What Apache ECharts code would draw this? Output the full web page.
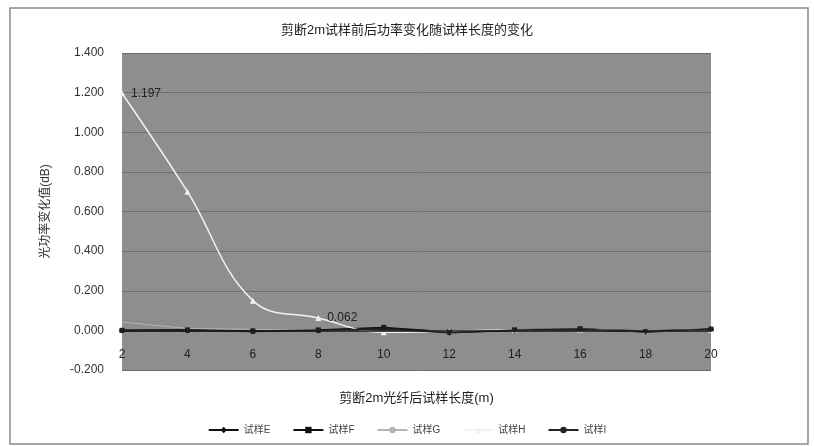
<!DOCTYPE html>
<html><head><meta charset="utf-8">
<script src="https://cdn.jsdelivr.net/npm/echarts@6/dist/echarts.min.js"></script>
<style>html,body{margin:0;padding:0;background:#fff}#c{width:814px;height:446px}</style>
</head><body><div id="c"></div>
<script>
const categories = ['2','4','6','8','10','12','14','16','18','20'];
const seriesNames = ['试样E','试样F','试样G','试样H','试样I'];
const valuesE = [0.000, 0.000, -0.005, 0.000, 0.010, -0.010, 0.000, 0.005, -0.005, 0.005];
const valuesF = [0.000, 0.002, -0.003, 0.002, 0.015, -0.008, 0.003, 0.008, -0.008, 0.006];
const valuesG = [0.042, 0.010, 0.005, 0.000, -0.005, -0.002, 0.002, 0.004, -0.003, 0.004];
const valuesH = [1.197, 0.700, 0.150, 0.062, -0.010, -0.005, 0.003, 0.004, -0.004, 0.003];
const valuesI = [0.000, 0.000, -0.004, 0.000, 0.008, -0.012, 0.002, 0.006, -0.006, 0.006];
const yTicks = {min: -0.2, max: 1.4, interval: 0.2};
const zeroLine = 0;

const FONT = '"Liberation Sans", Arial, "Noto Sans CJK SC", sans-serif';
const chart = echarts.init(document.getElementById('c'));
function labelAt(idx, pos) {
  return {show: true, position: pos || 'right', distance: 6, color: '#222', fontSize: 12, fontFamily: FONT,
    formatter: p => p.dataIndex === idx ? p.value.toFixed(3) : ''};
}
chart.setOption({
  backgroundColor: '#fff',
  animation: false,
  title: {text: '剪断2m试样前后功率变化随试样长度的变化', left: 'center', top: 19,
    textStyle: {fontSize: 13, fontWeight: 'normal', color: '#222', fontFamily: FONT}},
  grid: {left: 122, right: 103, top: 53, bottom: 76, show: true, backgroundColor: '#8e8e8e', borderWidth: 0},
  legend: {bottom: 6, left: 'center', itemGap: 22, itemWidth: 30, itemHeight: 8,
    textStyle: {fontSize: 10, color: '#444', fontFamily: FONT},
    data: seriesNames},
  xAxis: {type: 'category', data: categories, boundaryGap: false, offset: -21,
    name: '剪断2m光纤后试样长度(m)', nameLocation: 'middle', nameGap: 43,
    nameTextStyle: {fontSize: 13, color: '#222', fontFamily: FONT},
    axisLine: {show: false, onZero: false},
    axisTick: {show: false},
    axisLabel: {margin: 0, fontSize: 12, color: '#222', fontFamily: FONT},
    splitLine: {show: false}},
  yAxis: {type: 'value', min: yTicks.min, max: yTicks.max, interval: yTicks.interval,
    name: '光功率变化值(dB)', nameLocation: 'middle', nameGap: 70,
    nameTextStyle: {fontSize: 12, color: '#333', fontFamily: FONT},
    axisLine: {show: false}, axisTick: {show: false},
    axisLabel: {fontSize: 12, color: '#333', fontFamily: FONT, margin: 18, formatter: v => v.toFixed(3)},
    splitLine: {lineStyle: {color: '#6e6e6e', width: 1}}},
  graphic: [{type: 'rect', shape: {x: 10, y: 8, width: 798, height: 436}, style: {fill: 'none', stroke: '#8a8a8a', lineWidth: 1.5}, silent: true, z: -1}],
  series: [
    {name: seriesNames[0], type: 'line', data: valuesE, symbol: 'diamond', symbolSize: 6,
      itemStyle: {color: '#111'}, lineStyle: {color: '#111', width: 2},
      markLine: {silent: true, symbol: 'none', label: {show: false},
        lineStyle: {color: '#1a1a1a', width: 1.5, type: 'solid'}, data: [{yAxis: zeroLine}]}},
    {name: seriesNames[1], type: 'line', data: valuesF, symbol: 'rect', symbolSize: 5,
      itemStyle: {color: '#111'}, lineStyle: {color: '#111', width: 1.5}},
    {name: seriesNames[2], type: 'line', data: valuesG, symbol: 'none', symbolSize: 4,
      itemStyle: {color: '#b4b4b4'}, lineStyle: {color: '#b4b4b4', width: 1}, label: labelAt(0, 'right')},
    {name: seriesNames[3], type: 'line', data: valuesH, smooth: 0.4, symbol: 'triangle', symbolSize: 6,
      itemStyle: {color: '#f2f2f2'}, lineStyle: {color: '#f2f2f2', width: 1.5},
      label: {show: true, position: 'right', distance: 6, color: '#222', fontSize: 12, fontFamily: FONT,
        formatter: p => (p.dataIndex === 0 || p.dataIndex === 3) ? p.value.toFixed(3) : ''}},
    {name: seriesNames[4], type: 'line', data: valuesI, symbol: 'circle', symbolSize: 5,
      itemStyle: {color: '#222'}, lineStyle: {color: '#222', width: 1.5}}
  ]
});
</script></body></html>
